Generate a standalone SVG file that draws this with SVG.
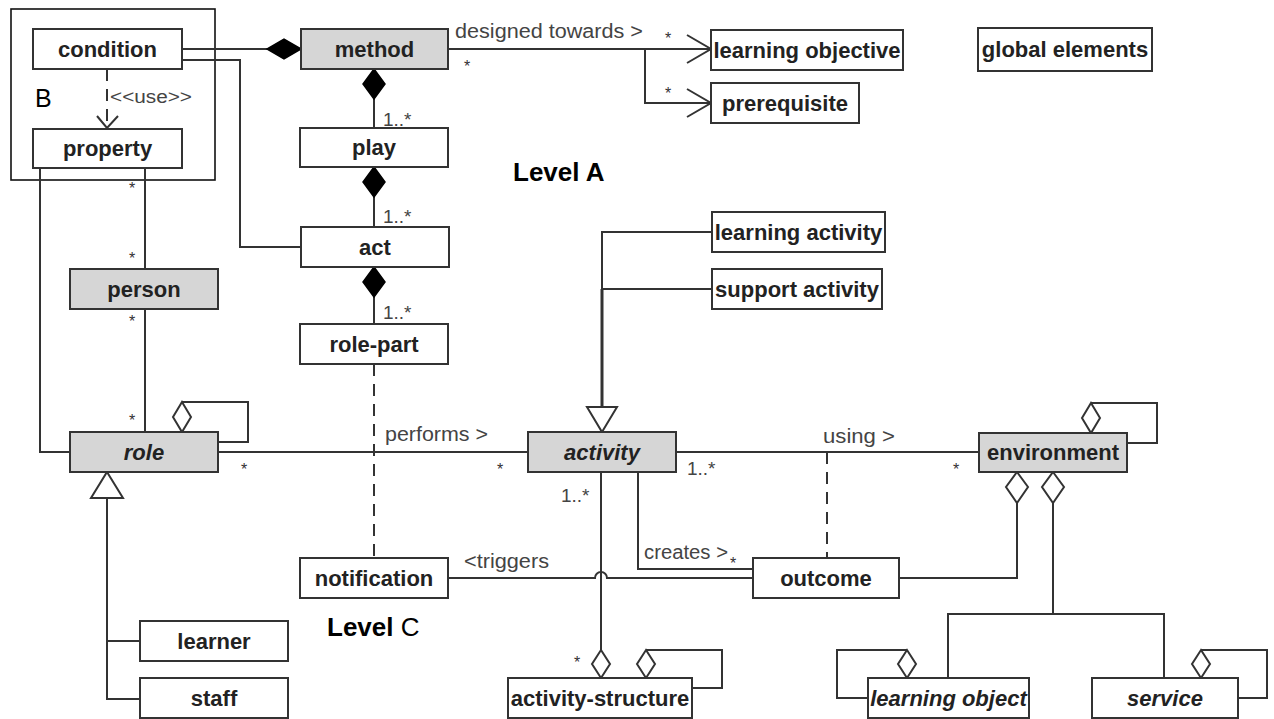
<svg xmlns="http://www.w3.org/2000/svg" width="1274" height="719" viewBox="0 0 1274 719">
<style>
.box{fill:#fff;stroke:#333;stroke-width:2}
.gray{fill:#d6d6d6}
.lbl{font-family:"Liberation Sans",Arial,sans-serif;font-weight:bold;font-size:22px;fill:#222;text-anchor:middle}
.it{font-style:italic}
.sm{font-family:"Liberation Sans",Arial,sans-serif;font-size:20px;fill:#444}
.ast{font-family:"Liberation Sans",Arial,sans-serif;font-size:16px;fill:#333;text-anchor:middle}
.ln{fill:none;stroke:#333;stroke-width:2}
.dash{stroke-dasharray:12 8}
.dfill{fill:#000;stroke:#000;stroke-width:1.5}
.dopen{fill:#fff;stroke:#333;stroke-width:2}
.big{font-family:"Liberation Sans",Arial,sans-serif;font-size:26px;fill:#000}
</style>
<rect width="1274" height="719" fill="#fff"/>

<g id="frame-B">
<rect x="11" y="9" width="204" height="171" fill="none" stroke="#111" stroke-width="1.6"/>
<text x="35" y="107" class="big" style="font-size:25px">B</text>
</g>
<g id="label-levelA"><text x="513" y="181" class="big" font-weight="bold">Level A</text></g>
<g id="label-levelC"><text x="327" y="636" class="big" font-weight="bold">Level <tspan font-weight="normal">C</tspan></text></g>

<g id="connectors">
<path class="ln" d="M182,49 H267"/>
<polygon class="dfill" points="301,49 284,39 267,49 284,59"/>
<path class="ln" d="M374,99 V128"/>
<polygon class="dfill" points="374,69 385,84 374,99 363,84"/>
<path class="ln" d="M374,197 V227"/>
<polygon class="dfill" points="374,167 385,182 374,197 363,182"/>
<path class="ln" d="M374,297 V324"/>
<polygon class="dfill" points="374,267 385,282 374,297 363,282"/>
<path class="ln" d="M182,60 H240 V247 H301"/>
<path class="ln dash" d="M107,69 V127"/>
<path class="ln" d="M97,116 L107,128 L118,116"/>
<path class="ln" d="M448,49 H710"/>
<path class="ln" d="M687,35 L711,49 L687,63"/>
<path class="ln" d="M645,49 V103 H710"/>
<path class="ln" d="M687,89 L711,103 L687,117"/>
<path class="ln" d="M40,168 V452 H70"/>
<path class="ln" d="M145,168 V269"/>
<path class="ln" d="M145,309 V432"/>
<path class="ln" d="M182,402 H248 V442 H218"/>
<polygon class="dopen" points="182,402 191,417 182,432 173,417"/>
<path class="ln" d="M107,498 V699 H140 M107,641 H140"/>
<polygon class="dopen" points="107,472 123,498 91,498"/>
<path class="ln" d="M218,452 H528"/>
<path class="ln dash" d="M374,364 V558"/>
<path class="ln" d="M602,289 V232 H712 M602,289 H712"/>
<path class="ln" style="stroke-width:3" d="M602,289 V407"/>
<polygon class="dopen" points="602,432 617,407 587,407"/>
<path class="ln" d="M676,452 H979"/>
<path class="ln dash" d="M827,452 V558"/>
<path class="ln" d="M601,472 V650"/>
<polygon class="dopen" points="601,650 610,664 601,678 592,664"/>
<path class="ln" d="M646,650 H722 V688 H692"/>
<polygon class="dopen" points="646,650 655,664 646,678 637,664"/>
<path class="ln" d="M638,472 V569 H753"/>
<path class="ln" d="M448,578 H595 A6,6 0 0 1 607,578 H753"/>
<path class="ln" d="M899,578 H1017 V503"/>
<polygon class="dopen" points="1017,472 1028,487 1017,503 1006,487"/>
<path class="ln" d="M1053,503 V614 M948,678 V614 H1164 V678"/>
<polygon class="dopen" points="1053,472 1064,487 1053,503 1042,487"/>
<path class="ln" d="M1091,403 H1157 V443 H1127"/>
<polygon class="dopen" points="1091,403 1100,418 1091,433 1082,418"/>
<path class="ln" d="M907,650 H837 V698 H868"/>
<polygon class="dopen" points="907,650 916,664 907,678 898,664"/>
<path class="ln" d="M1201,650 H1267 V698 H1238"/>
<polygon class="dopen" points="1201,650 1210,664 1201,678 1192,664"/>

<text class="sm" x="455" y="38" textLength="188" lengthAdjust="spacingAndGlyphs">designed towards &gt;</text>
<text class="sm" x="110" y="103" style="font-size:18px" textLength="82" lengthAdjust="spacingAndGlyphs">&lt;&lt;use&gt;&gt;</text>
<text class="sm" x="383" y="126" style="font-size:19px">1..*</text>
<text class="sm" x="383" y="223" style="font-size:19px">1..*</text>
<text class="sm" x="383" y="319" style="font-size:19px">1..*</text>
<text class="sm" x="385" y="441" textLength="103" lengthAdjust="spacingAndGlyphs">performs &gt;</text>
<text class="sm" x="823" y="443" textLength="72" lengthAdjust="spacingAndGlyphs">using &gt;</text>
<text class="sm" x="687" y="475" style="font-size:19px">1..*</text>
<text class="sm" x="561" y="502" style="font-size:19px">1..*</text>
<text class="sm" x="644" y="559" textLength="84" lengthAdjust="spacingAndGlyphs">creates &gt;</text>
<text class="sm" x="464" y="568" textLength="85" lengthAdjust="spacingAndGlyphs">&lt;triggers</text>
<text class="ast" x="467" y="72">*</text>
<text class="ast" x="668" y="44">*</text>
<text class="ast" x="668" y="99">*</text>
<text class="ast" x="132" y="194">*</text>
<text class="ast" x="132" y="264">*</text>
<text class="ast" x="132" y="327">*</text>
<text class="ast" x="132" y="426">*</text>
<text class="ast" x="244" y="475">*</text>
<text class="ast" x="500" y="475">*</text>
<text class="ast" x="956" y="475">*</text>
<text class="ast" x="577" y="668">*</text>
<text class="ast" x="733" y="569">*</text>
</g>

<g id="condition"><rect class="box" x="33" y="29" width="149" height="40"/><text class="lbl" x="107.5" y="57">condition</text></g>
<g id="property"><rect class="box" x="33" y="129" width="149" height="39"/><text class="lbl" x="107.5" y="156">property</text></g>
<g id="method"><rect class="box gray" x="301" y="29" width="147" height="40"/><text class="lbl" x="374.5" y="57">method</text></g>
<g id="play"><rect class="box" x="300" y="128" width="148" height="39"/><text class="lbl" x="374" y="155">play</text></g>
<g id="act"><rect class="box" x="301" y="227" width="148" height="40"/><text class="lbl" x="375" y="255">act</text></g>
<g id="role-part"><rect class="box" x="300" y="324" width="148" height="40"/><text class="lbl" x="374" y="352">role-part</text></g>
<g id="person"><rect class="box gray" x="70" y="269" width="148" height="40"/><text class="lbl" x="144" y="297">person</text></g>
<g id="role"><rect class="box gray" x="70" y="432" width="148" height="40"/><text class="lbl it" x="144" y="460">role</text></g>
<g id="learning-objective"><rect class="box" x="711" y="30" width="192" height="40"/><text class="lbl" x="807" y="58">learning objective</text></g>
<g id="prerequisite"><rect class="box" x="711" y="83" width="148" height="40"/><text class="lbl" x="785" y="111">prerequisite</text></g>
<g id="global-elements"><rect class="box" x="978" y="28" width="174" height="43"/><text class="lbl" x="1065" y="57">global elements</text></g>
<g id="learning-activity"><rect class="box" x="712" y="212" width="173" height="40"/><text class="lbl" x="798.5" y="240">learning activity</text></g>
<g id="support-activity"><rect class="box" x="712" y="269" width="170" height="40"/><text class="lbl" x="797" y="297">support activity</text></g>
<g id="activity"><rect class="box gray" x="528" y="432" width="148" height="40"/><text class="lbl it" x="602" y="460">activity</text></g>
<g id="environment"><rect class="box gray" x="979" y="433" width="148" height="39"/><text class="lbl" x="1053" y="460">environment</text></g>
<g id="notification"><rect class="box" x="300" y="558" width="148" height="40"/><text class="lbl" x="374" y="586">notification</text></g>
<g id="outcome"><rect class="box" x="753" y="558" width="146" height="40"/><text class="lbl" x="826" y="586">outcome</text></g>
<g id="learner"><rect class="box" x="140" y="621" width="148" height="40"/><text class="lbl" x="214" y="649">learner</text></g>
<g id="staff"><rect class="box" x="140" y="678" width="148" height="40"/><text class="lbl" x="214" y="706">staff</text></g>
<g id="activity-structure"><rect class="box" x="508" y="678" width="184" height="40"/><text class="lbl" x="600" y="706">activity-structure</text></g>
<g id="learning-object"><rect class="box" x="868" y="678" width="161" height="40"/><text class="lbl it" x="948.5" y="706">learning object</text></g>
<g id="service"><rect class="box" x="1092" y="678" width="146" height="40"/><text class="lbl it" x="1165" y="706">service</text></g>
</svg>
